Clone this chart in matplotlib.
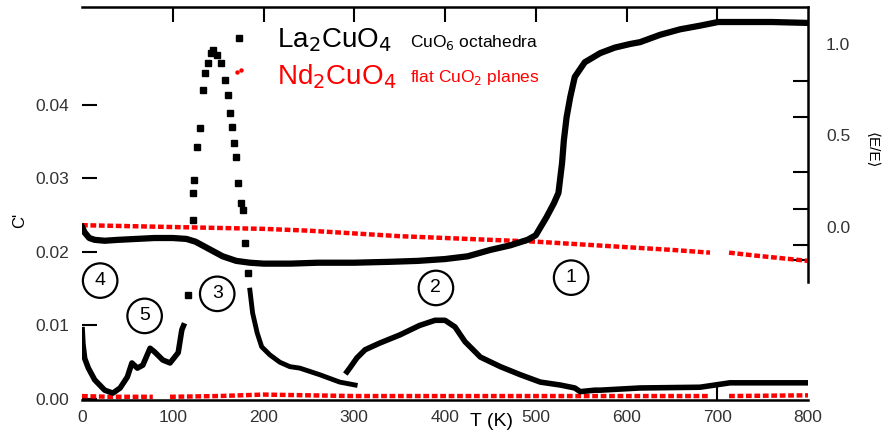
import matplotlib
matplotlib.use("Agg")
import matplotlib.pyplot as plt

plt.rcParams['font.family'] = ['Liberation Sans', 'DejaVu Sans']

# C' (left axis), La2CuO4, black
T_low = [0, 1, 3, 7, 14, 25, 34, 42, 50, 55, 61, 67, 75, 80, 89, 97, 106, 110, 113]
C_low = [0.0098, 0.0075, 0.0055, 0.0042, 0.0026, 0.0012, 0.0008, 0.0015, 0.0030, 0.0049,
         0.0042, 0.0046, 0.0069, 0.0064, 0.0053, 0.0049, 0.0063, 0.0094, 0.0103]

T_peak = [117, 122, 122, 123, 127, 130, 133, 136, 139, 142, 144, 149, 153, 158, 161, 163,
          165, 167, 170, 172, 173, 175, 177, 180, 183]
C_peak = [0.0141, 0.0243, 0.0280, 0.0298, 0.0343, 0.0369, 0.0420, 0.0443, 0.0457, 0.0471,
          0.0475, 0.0468, 0.0457, 0.0434, 0.0414, 0.0389, 0.0370, 0.0348, 0.0329, 0.0294,
          0.0491, 0.0267, 0.0257, 0.0212, 0.0171]

T_mid = [185, 188, 193, 198, 207, 218, 229, 240, 262, 284, 301]
C_mid = [0.0148, 0.0117, 0.0090, 0.0071, 0.0060, 0.0050, 0.0044, 0.0042, 0.0033, 0.0023, 0.0019]

T_high = [292, 295, 303, 312, 328, 350, 372, 389, 400, 411, 422, 439, 461, 483, 505, 527,
          543, 549, 565, 571, 615, 681, 714, 800]
C_high = [0.0037, 0.0042, 0.0056, 0.0067, 0.0076, 0.0087, 0.0100, 0.0107, 0.0107, 0.0098,
          0.0078, 0.0057, 0.0044, 0.0033, 0.0023, 0.0019, 0.0015, 0.0010, 0.0012, 0.0012,
          0.0015, 0.0016, 0.0022, 0.0022]

# C' (left axis), Nd2CuO4, red
T_nd_lo1 = [0, 30, 60, 78]
C_nd_lo1 = [0.0004, 0.0003, 0.0003, 0.0003]
T_nd_lo2 = [97, 150, 200, 250, 300, 400, 500, 600, 692]
C_nd_lo2 = [0.0003, 0.0004, 0.0006, 0.0005, 0.0004, 0.0004, 0.0004, 0.0004, 0.0004]
T_nd_lo3 = [713, 800]
C_nd_lo3 = [0.0004, 0.0005]
T_nd_dots = [171, 175]
C_nd_dots = [0.0444, 0.0448]

# <E/E> (right axis)
T_E = [0, 3, 8, 14, 25, 40, 60, 80, 100, 115, 125, 140, 155, 170, 185, 200, 230, 260, 300,
       340, 370, 400, 425, 450, 472, 491, 500, 512, 520, 525, 529, 531, 534, 538, 543, 554,
       571, 587, 604, 615, 637, 659, 681, 701, 730, 760, 800]
E_la = [0.0, -0.03, -0.06, -0.07, -0.075, -0.07, -0.065, -0.06, -0.06, -0.065, -0.08, -0.12,
        -0.16, -0.185, -0.195, -0.2, -0.2, -0.195, -0.195, -0.19, -0.185, -0.175, -0.16,
        -0.125, -0.1, -0.07, -0.045, 0.055, 0.13, 0.186, 0.35, 0.475, 0.60, 0.71, 0.82, 0.90,
        0.95, 0.98, 1.0, 1.01, 1.05, 1.08, 1.10, 1.12, 1.12, 1.12, 1.115]

T_nd_hi1 = [0, 50, 100, 150, 200, 250, 300, 350, 400, 450, 500, 550, 600, 650, 692]
E_nd_hi1 = [0.01, 0.005, 0.0, -0.005, -0.01, -0.02, -0.035, -0.05, -0.06, -0.07, -0.08,
            -0.095, -0.11, -0.125, -0.14]
T_nd_hi2 = [713, 740, 770, 800]
E_nd_hi2 = [-0.14, -0.155, -0.17, -0.185]

x_ticks = [0, 100, 200, 300, 400, 500, 600, 700, 800]
y_ticks = [0.00, 0.01, 0.02, 0.03, 0.04]
e_ticks = [0.0, 0.5, 1.0]
e_minor = [1.0, 0.8, 0.6, 0.3, 0.1, -0.1, -0.18]

# circled region labels: (label, T, C')
regions = [("4", 20, 0.0161), ("5", 69, 0.0113), ("3", 149, 0.0143),
           ("2", 390, 0.0151), ("1", 539, 0.0165)]

W, H = 886, 440
fig = plt.figure(figsize=(W / 100, H / 100), dpi=100)
ax = fig.add_axes([82 / W, 40 / H, 726 / W, 393 / H])

red_kw = dict(color="#ff0000", lw=3.2, ls=(0, (1.3, 0.6)))
ax.plot(T_nd_lo1, C_nd_lo1, **red_kw)
ax.plot(T_nd_lo2, C_nd_lo2, **red_kw)
ax.plot(T_nd_lo3, C_nd_lo3, **red_kw)
ax.plot(T_nd_dots, C_nd_dots, ls="none", marker="o", ms=2.2, color="#ff0000")

ax.plot(T_low, C_low, color="black", lw=4.0, solid_capstyle="butt")
ax.plot(T_peak, C_peak, ls="none", marker="s", ms=4.5, color="black")
ax.plot(T_mid, C_mid, color="black", lw=3.5)
ax.plot(T_high, C_high, color="black", lw=4.0)

ax.set_xlim(0, 800)
ax.set_ylim(-0.000136, 0.0533)
ax.spines["left"].set_visible(False)
ax.spines["right"].set_visible(False)
for s in ("top", "bottom"):
    ax.spines[s].set_linewidth(1.8)

ax.set_xticks(x_ticks)
ax.set_xticklabels([str(v) for v in x_ticks])
ax.set_yticks(y_ticks)
ax.set_yticklabels(["%.2f" % v for v in y_ticks])
ax.tick_params(axis="both", direction="in", length=11, width=1.5, labelsize=12.5,
               top=True, right=False, labelcolor="#333333")
ax.tick_params(axis="x", pad=7)
ax.tick_params(axis="y", pad=9)
for i, t in enumerate(ax.yaxis.get_major_ticks()):
    if y_ticks[i] < 0.015:
        t.tick1line.set_visible(False)
for i, t in enumerate(ax.xaxis.get_major_ticks()):
    if x_ticks[i] != 700:
        t.tick1line.set_visible(False)
    if x_ticks[i] in (0, 800):
        t.tick2line.set_visible(False)

for lab, tx, cy in regions:
    ax.text(tx, cy, lab, ha="center", va="center", fontsize=14,
            bbox=dict(boxstyle="circle,pad=0.45", fc="white", ec="black", lw=1.6))

ax2 = ax.twinx()
ax2.plot(T_nd_hi1, E_nd_hi1, **red_kw)
ax2.plot(T_nd_hi2, E_nd_hi2, **red_kw)
ax2.plot(T_E, E_la, color="black", lw=4.5)
ax2.set_ylim(-0.945, 1.202)
for s in ("left", "top", "bottom"):
    ax2.spines[s].set_visible(False)
ax2.spines["right"].set_bounds(-0.30, 1.202)
ax2.spines["right"].set_linewidth(1.8)
ax2.set_yticks(e_ticks)
ax2.set_yticklabels(["%.1f" % v for v in e_ticks])
ax2.set_yticks(e_minor, minor=True)
ax2.tick_params(axis="y", which="major", length=0, pad=13, labelsize=12.5,
                labelcolor="#333333")
ax2.tick_params(axis="y", which="minor", direction="in", length=11, width=1.5)

fig.text(277 / W, 1 - 40 / H, r"La$_2$CuO$_4$", fontsize=20, va="center", ha="left")
fig.text(410 / W, 1 - 42 / H, r"CuO$_6$ octahedra", fontsize=12.5, va="center", ha="left")
fig.text(277 / W, 1 - 77 / H, r"Nd$_2$CuO$_4$", fontsize=20, va="center", ha="left",
         color="#ff0000")
fig.text(410 / W, 1 - 77 / H, r"flat CuO$_2$ planes", fontsize=12.5, va="center", ha="left",
         color="#ff0000")

fig.text(20 / W, 1 - 220 / H, "C'", fontsize=12, rotation=90, ha="center", va="center")
fig.text(872 / W, 1 - 150 / H, "⟨E/E⟩", fontsize=11, rotation=270, ha="center", va="center")
fig.text(491 / W, 1 - 421 / H, "T (K)", fontsize=14, ha="center", va="center")

fig.savefig("out.png", dpi=100)
